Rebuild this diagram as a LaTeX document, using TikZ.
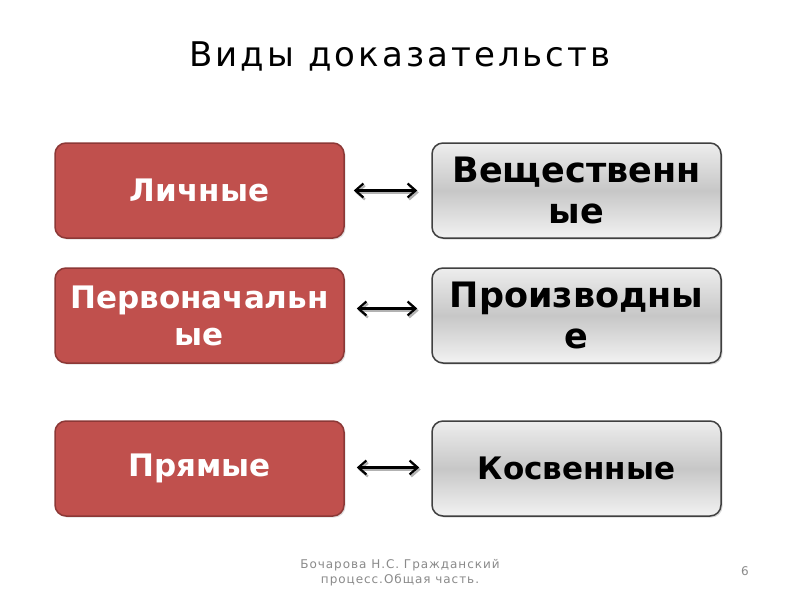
\documentclass[tikz,border=0pt]{standalone}
\usepackage{fontspec}
\setmainfont{DejaVu Sans}
\newfontfamily\titlefont[LetterSpace=9]{DejaVu Sans}
\newfontfamily\footfont[LetterSpace=8]{DejaVu Sans}
\usetikzlibrary{arrows.meta,shadows,calc}
\definecolor{redfill}{HTML}{C0504D}
\definecolor{redline}{HTML}{8C3836}
\definecolor{footgray}{HTML}{8A8A8A}
\tikzset{
  basebox/.style={line width=1.5pt, rounded corners=11pt,
    minimum width=289pt, minimum height=95pt, align=center, inner sep=0pt},
  redbox/.style={basebox, draw=redline, fill=redfill, text=white,
    font=\fontsize{31}{37}\selectfont\bfseries,
    drop shadow={shadow xshift=1.5pt, shadow yshift=-1.5pt, opacity=0.25}},
  graybox/.style={basebox, draw=black!75, top color=white!93!black, bottom color=white!95!black,
    middle color=black!22, text=black,
    drop shadow={shadow xshift=1.5pt, shadow yshift=-1.5pt, opacity=0.3}},
  graybig/.style={graybox, font=\fontsize{35}{41}\selectfont\bfseries},
  graysmall/.style={graybox, font=\fontsize{31}{37}\selectfont\bfseries},
  dblarrow/.style={line width=3pt, {Straight Barb[length=8pt,width=14pt,line width=2.2pt]}-{Straight Barb[length=8pt,width=14pt,line width=2.2pt]}},
  arrshadow/.style={dblarrow, draw=black!30},
}
\begin{document}
\begin{tikzpicture}[x=1pt,y=-1pt]
\useasboundingbox (0,0) rectangle (800,600);
\fill[white] (0,0) rectangle (800,600);
\node[font=\titlefont\fontsize{34}{40}\selectfont] (title) at (400,56) {Виды доказательств};

\node[redbox] (l1) at (199.5,190.5) {Личные};
\node[redbox] (l2) at (199.5,315.5) {Первоначальн\\ые};
\node[redbox] (l3) at (199.5,468.5) {Прямые};

\node[graybig] (r1) at (576.5,190.5) {Вещественн\\ые};
\node[graybig] (r2) at (576.5,315.5) {Производны\\е};
\node[graysmall] (r3) at (576.5,468.5) {Косвенные};

\coordinate (a1s) at ($(l1.east)+(9,0)$);
\coordinate (a1e) at ($(r1.west)+(-14,0)$);
\coordinate (a2s) at ($(l2.east)+(12,-7)$);
\coordinate (a2e) at ($(r2.west)+(-14,-7)$);
\coordinate (a3s) at ($(l3.east)+(12,-1)$);
\coordinate (a3e) at ($(r3.west)+(-12,-1)$);

\foreach \s/\e in {a1s/a1e,a2s/a2e,a3s/a3e}{
  \draw[arrshadow] ($(\s)+(1.5,2)$) -- ($(\e)+(1.5,2)$);
  \draw[dblarrow] (\s) -- (\e);
}

\node[font=\footfont\fontsize{12}{15}\selectfont, text=footgray, align=center] (foot) at (400,573) {Бочарова Н.С. Гражданский\\процесс.Общая часть.};
\node[font=\fontsize{12}{14}\selectfont, text=footgray] (page) at (745,571) {6};
\end{tikzpicture}
\end{document}
